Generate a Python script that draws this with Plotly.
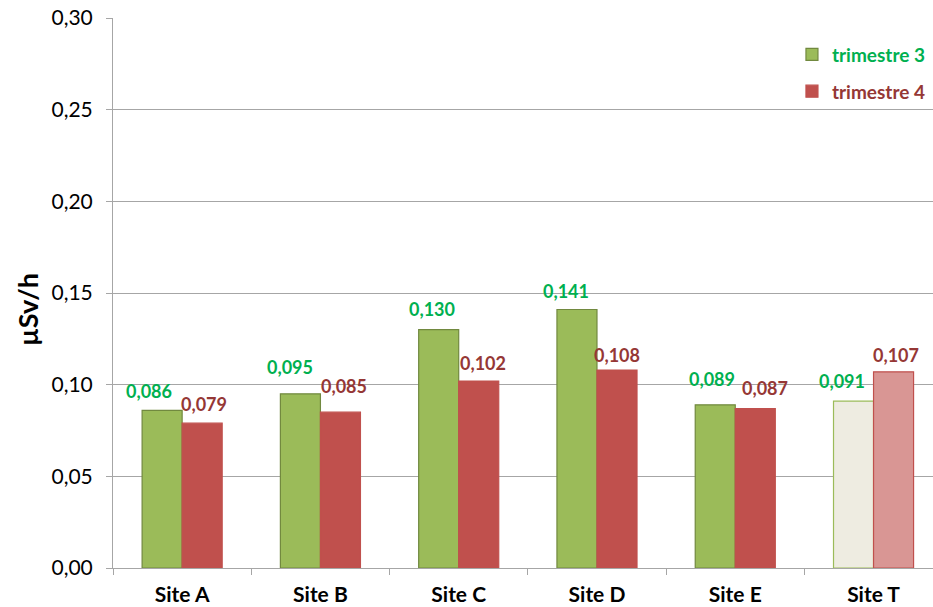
import plotly.graph_objects as go

sites = ["Site A", "Site B", "Site C", "Site D", "Site E", "Site T"]
t3 = [0.086, 0.095, 0.130, 0.141, 0.089, 0.091]
t4 = [0.079, 0.085, 0.102, 0.108, 0.087, 0.107]
yticks = [0.00, 0.05, 0.10, 0.15, 0.20, 0.25, 0.30]

# label nudges (pixels) as placed in the original chart
t3_dx = [-13, -10, -7, -11, -3, -12]
t3_dy = [6, 14, 8, 6, 13, 7]
t4_dx = [2, 4, 4, 0, 10, 2]
t4_dy = [6, 13, 5, 2, 8, 4]

G_FILL, G_LINE, G_TEXT = "#9BBB59", "#71893F", "#00B050"
R_FILL, R_LINE, R_TEXT = "#C0504D", "#C0504D", "#953735"
G_FILL_T, R_FILL_T = "#EEECE1", "#D99694"

FONT = "Lato, Carlito, Calibri, sans-serif"
W, H = 933, 607
ML, MR, MT, MB = 113, 0, 18, 39
BARGAP = 0.421
XMAX = 5.43

g_fills = [G_FILL] * (len(sites) - 1) + [G_FILL_T]
g_lines = [G_LINE] * (len(sites) - 1) + [G_FILL]
r_fills = [R_FILL] * (len(sites) - 1) + [R_FILL_T]

fig = go.Figure()
fig.add_bar(
    x=sites, y=t3,
    name="<b><span style='color:%s'>trimestre 3</span></b>" % G_TEXT,
    legendgroup="t3",
    marker=dict(color=g_fills, line=dict(color=g_lines, width=1.2)),
)
fig.add_bar(
    x=sites, y=t4,
    name="<b><span style='color:%s'>trimestre 4</span></b>" % R_TEXT,
    legendgroup="t4",
    marker=dict(color=r_fills, line=dict(color=R_LINE, width=1.2)),
)

cat_px = (W - ML - MR) / (XMAX + 0.5)
bar_px = cat_px * (1 - BARGAP) / 2
for vals, color, sh, dxs, dys in ((t3, G_TEXT, -bar_px / 2, t3_dx, t3_dy),
                                  (t4, R_TEXT, bar_px / 2, t4_dx, t4_dy)):
    for s, v, dx, dy in zip(sites, vals, dxs, dys):
        fig.add_annotation(
            x=s, y=v, xref="x", yref="y",
            text="<b>%s</b>" % ("%.3f" % v).replace(".", ","),
            showarrow=False, xanchor="center", yanchor="bottom",
            xshift=sh + dx, yshift=dy,
            font=dict(color=color, size=18, family=FONT),
        )

fig.add_annotation(
    x=(27 - ML) / (W - ML - MR), y=(H - MB - 310) / (H - MT - MB),
    xref="paper", yref="paper", text="<b>µSv/h</b>", textangle=-90,
    showarrow=False, xanchor="center", yanchor="middle",
    font=dict(size=27, family=FONT, color="#000000"),
)

fig.update_layout(
    width=W, height=H,
    margin=dict(l=ML, r=MR, t=MT, b=MB),
    paper_bgcolor="white", plot_bgcolor="white",
    separators=", ",
    barmode="group", bargap=BARGAP, bargroupgap=0,
    font=dict(family=FONT, size=21, color="#000000"),
    showlegend=True,
    legend=dict(x=0.828, y=0.968, xanchor="left", yanchor="top",
                font=dict(size=19, family=FONT), tracegroupgap=9,
                bgcolor="rgba(0,0,0,0)", itemwidth=30),
)
fig.update_yaxes(
    range=[0, 0.30], tickvals=yticks, tickformat=".2f",
    showgrid=True, gridcolor="#A6A6A6", gridwidth=1,
    showline=True, linecolor="#A6A6A6", linewidth=1,
    ticks="outside", ticklen=6, tickcolor="#A6A6A6",
    tickfont=dict(size=21, family=FONT), ticklabelstandoff=9,
    zeroline=False,
)
fig.update_xaxes(
    range=[-0.5, XMAX],
    showline=True, linecolor="#A6A6A6", linewidth=1,
    ticks="outside", tickson="boundaries", ticklen=6, tickcolor="#A6A6A6",
    tickfont=dict(size=21, family=FONT), ticklabelstandoff=8,
    tickprefix="<b>", ticksuffix="</b>",
)

fig.write_html("out.html")
